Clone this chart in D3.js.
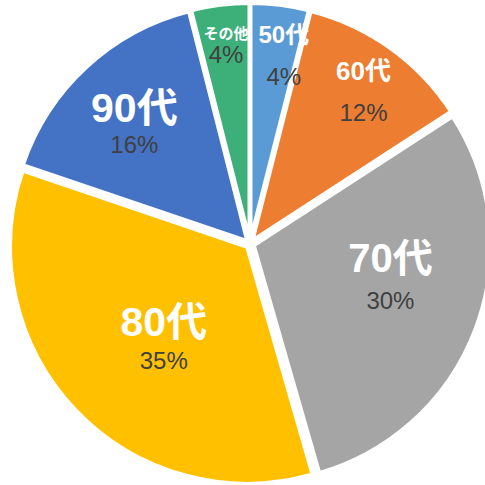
<!DOCTYPE html>
<html>
<head>
<meta charset="utf-8">
<script src="https://cdn.jsdelivr.net/npm/d3@7"></script>
<style>
  html, body { margin: 0; padding: 0; background: #fff; }
  svg text { font-family: "Liberation Sans", Arial, "Noto Sans CJK JP", sans-serif; }
</style>
</head>
<body>
<div id="chart"></div>
<script>
// data (clockwise from 12 o'clock)
const categories = ["50代", "60代", "70代", "80代", "90代", "その他"];
const shares = [4, 12, 30, 35, 16, 4];
const shareLabels = ["4%", "12%", "30%", "35%", "16%", "4%"];

const colors = ["#5B9BD5", "#ED7D31", "#A5A5A5", "#FFC000", "#4472C4", "#3DB07A"];

// label placement, like the hand-moved labels of the original
const labelLayout = [
    { f: 0.81, dx: 10, dy: 2, nameSize: 24, up: 21, down: 21 },
    { f: 0.80, dx: 3, dy: 2, nameSize: 26, up: 21, down: 21 },
    { f: 0.61, dx: 5, dy: -16, nameSize: 40, up: 21, down: 22 },
    { f: 0.55, dx: 8, dy: 7, nameSize: 41, up: 19, down: 20 },
    { f: 0.70, dx: -3, dy: 4, nameSize: 41, up: 18, down: 18 },
    { f: 0.85, dx: 1, dy: 0, nameSize: 15, up: 11, down: 10 }
];

const width = 485, height = 485;
const cx = 250, cy = 244, radius = 237;
const explode = 4;

const rows = categories.map((c, i) => ({ name: c, value: shares[i], label: shareLabels[i], i: i }));

const svg = d3.select("#chart")
    .append("svg")
    .attr("width", width)
    .attr("height", height);

const g = svg.append("g")
    .attr("transform", `translate(${cx},${cy})`);

const pie = d3.pie()
    .sort(null)
    .value(d => d.value);

const arcs = pie(rows);

const arc = d3.arc()
    .innerRadius(0)
    .outerRadius(radius);

g.selectAll(".slice")
    .data(arcs)
    .enter()
    .append("path")
    .attr("class", "slice")
    .attr("d", arc)
    .attr("fill", d => colors[d.data.i])
    .attr("stroke", "#fff")
    .attr("stroke-width", 4)
    .attr("transform", d => {
        const mid = (d.startAngle + d.endAngle) / 2;
        return `translate(${explode * Math.sin(mid)},${-explode * Math.cos(mid)})`;
    });

const labels = g.selectAll(".label")
    .data(arcs)
    .enter()
    .append("g")
    .attr("class", "label")
    .attr("transform", d => {
        const L = labelLayout[d.data.i];
        const r = radius * L.f;
        const p = d3.arc().innerRadius(r).outerRadius(r).centroid(d);
        return `translate(${p[0] + L.dx},${p[1] + L.dy})`;
    });

labels.append("text")
    .attr("y", d => -labelLayout[d.data.i].up)
    .attr("text-anchor", "middle")
    .attr("dominant-baseline", "central")
    .style("font-size", d => labelLayout[d.data.i].nameSize + "px")
    .style("font-weight", "bold")
    .style("fill", "#fff")
    .text(d => d.data.name);

labels.append("text")
    .attr("y", d => labelLayout[d.data.i].down)
    .attr("text-anchor", "middle")
    .attr("dominant-baseline", "central")
    .style("font-size", "24px")
    .style("fill", "#404040")
    .text(d => d.data.label);
</script>
</body>
</html>
